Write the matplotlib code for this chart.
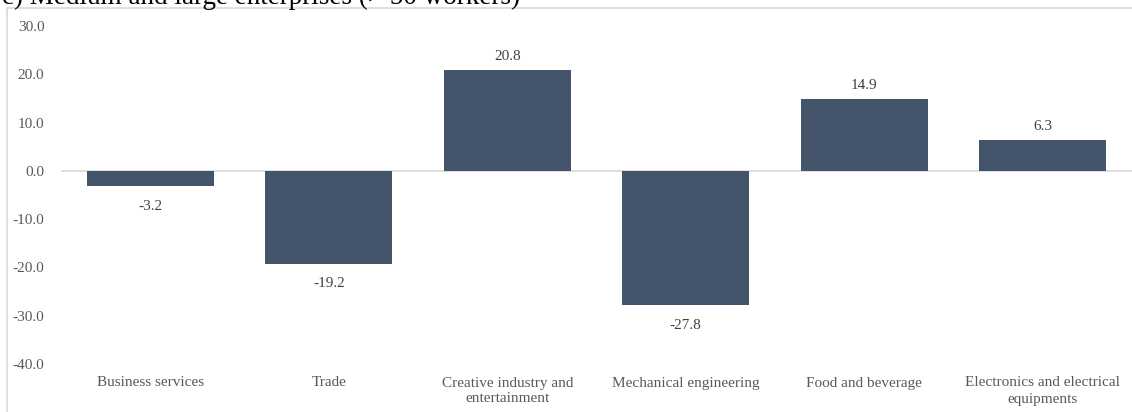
import matplotlib.pyplot as plt
from matplotlib.patches import Rectangle

categories = ["Business services", "Trade", "Creative industry and\nentertainment",
              "Mechanical engineering", "Food and beverage",
              "Electronics and electrical\nequipments"]
values = [-3.2, -19.2, 20.8, -27.8, 14.9, 6.3]
yticks = [-40, -30, -20, -10, 0, 10, 20, 30]

plt.rcParams['font.family'] = ['Liberation Serif', 'DejaVu Serif']

W, H = 1132, 412
fig = plt.figure(figsize=(W / 100, H / 100), dpi=100)

# chart frame (runs off the right and bottom edges)
fig.patches.append(Rectangle((7 / W, -0.05), 1.1, 1 - 8 / H + 0.05,
                             transform=fig.transFigure, fill=False,
                             edgecolor='#d9d9d9', linewidth=1.2))

fig.text(2 / W, 1 - 4 / H, "c) Medium and large enterprises (> 50 workers)",
         fontsize=19.5, va='baseline', ha='left', color='black')

ax = fig.add_axes([61 / W, 1 - 364 / H, 1071 / W, (364 - 26) / H])
x = range(len(categories))
bars = ax.bar(x, values, width=0.71, color='#44546A', zorder=2)
ax.axhline(0, color='#d9d9d9', linewidth=1.2, zorder=1)

ax.set_xlim(-0.5, len(categories) - 0.5)
ax.set_ylim(-40, 30)
ax.set_yticks(yticks)
ax.set_yticklabels([f"{v:.1f}" for v in yticks])
ax.set_xticks(list(x))
ax.set_xticklabels(categories)
ax.tick_params(axis='y', length=0, pad=12, labelsize=11, labelcolor='#595959')
ax.tick_params(axis='x', length=0, pad=9, labelsize=11, labelcolor='#595959')
for lab in ax.get_xticklabels():
    lab.set_linespacing(1.3)
for s in ax.spines.values():
    s.set_visible(False)

for b, v in zip(bars, values):
    off = 5 if v >= 0 else -10
    ax.annotate(f"{v:.1f}", (b.get_x() + b.get_width() / 2, v),
                xytext=(0, off), textcoords='offset points',
                ha='center', va='bottom' if v >= 0 else 'top',
                fontsize=11, color='#404040')

fig.savefig('out.png', dpi=100)
